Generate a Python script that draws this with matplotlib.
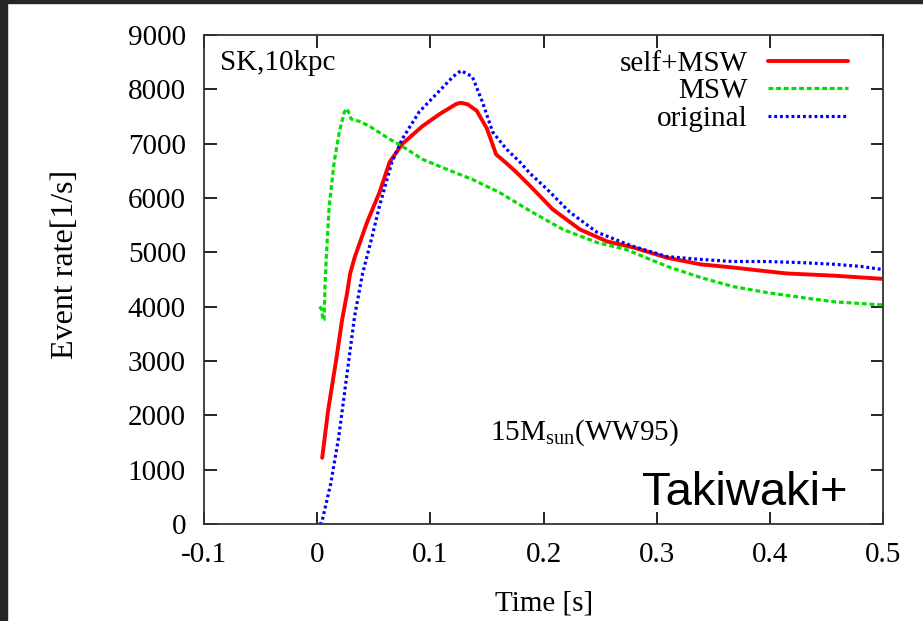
import matplotlib
matplotlib.use("Agg")
import matplotlib.pyplot as plt
from matplotlib.patches import Rectangle

plt.rcParams['font.family'] = ['Liberation Serif', 'DejaVu Serif']
plt.rcParams['mathtext.fontset'] = 'custom'
plt.rcParams['mathtext.rm'] = 'Liberation Serif'

# self+MSW (red, solid)
t_self = [0.0044, 0.0097, 0.0168, 0.022, 0.0265, 0.029, 0.033, 0.044, 0.055, 0.064, 0.075,
          0.093, 0.108, 0.123, 0.127, 0.133, 0.141, 0.150, 0.158, 0.167, 0.176, 0.188,
          0.208, 0.232, 0.256, 0.279, 0.309, 0.338, 0.367, 0.397, 0.415, 0.456, 0.5]
r_self = [1220, 2100, 3025, 3760, 4260, 4600, 4900, 5550, 6100, 6660, 6990,
          7320, 7540, 7730, 7750, 7720, 7600, 7270, 6800, 6640, 6470, 6220,
          5790, 5420, 5200, 5090, 4900, 4780, 4720, 4650, 4610, 4570, 4510]

# MSW (green, dashed)
t_msw = [0.002, 0.004, 0.005, 0.006, 0.007, 0.008, 0.0106, 0.015, 0.0195, 0.024,
         0.0265, 0.030, 0.037, 0.046, 0.064, 0.075, 0.093, 0.114, 0.137, 0.161,
         0.188, 0.217, 0.247, 0.273, 0.309, 0.338, 0.367, 0.397, 0.427, 0.456, 0.5]
r_msw = [4000, 3950, 3750, 3760, 4440, 4900, 5850, 6660, 7210, 7580,
         7640, 7450, 7410, 7320, 7080, 6950, 6710, 6530, 6340, 6100,
         5760, 5420, 5180, 5050, 4740, 4540, 4370, 4260, 4170, 4090, 4030]

# original (blue, dotted)
t_orig = [0.002, 0.004, 0.012, 0.019, 0.026, 0.033, 0.040, 0.048, 0.055, 0.066,
          0.075, 0.090, 0.108, 0.120, 0.127, 0.137, 0.146, 0.155, 0.167, 0.179,
          0.188, 0.203, 0.223, 0.247, 0.270, 0.279, 0.309, 0.338, 0.367, 0.397,
          0.427, 0.456, 0.48, 0.5]
r_orig = [0, 30, 750, 1600, 2710, 3820, 4600, 5250, 5850, 6660,
          7080, 7580, 7970, 8230, 8340, 8230, 7760, 7210, 6900, 6660,
          6450, 6160, 5740, 5370, 5180, 5110, 4920, 4870, 4830, 4830,
          4810, 4780, 4740, 4680]

x_ticks = [-0.1, 0, 0.1, 0.2, 0.3, 0.4, 0.5]
x_labels = ['-0.1', '0', '0.1', '0.2', '0.3', '0.4', '0.5']
y_ticks = list(range(0, 9001, 1000))

FS = 21

fig = plt.figure(figsize=(9.23, 6.21), dpi=100)
ax = fig.add_axes([0.221, 0.156, 0.736, 0.788])

# dark border strips of the screenshot
fig.patches.append(Rectangle((0, 0), 7 / 923, 1, transform=fig.transFigure,
                             color='#262626', zorder=0))
fig.patches.append(Rectangle((0, 1 - 3 / 621), 1, 3 / 621, transform=fig.transFigure,
                             color='#262626', zorder=0))

ax.plot(t_self, r_self, color='#ff0000', lw=2.8, label='self+MSW', solid_capstyle='round')
ax.plot(t_msw, r_msw, color='#00e000', lw=2.3, linestyle=(0, (1.5, 0.9)), label='MSW')
ax.plot(t_orig, r_orig, color='#0000ff', lw=2.3, linestyle=(0, (0.9, 0.9)), label='original')

ax.set_xlim(-0.1, 0.5)
ax.set_ylim(0, 9000)
ax.set_xticks(x_ticks)
ax.set_xticklabels(x_labels)
ax.set_yticks(y_ticks)
ax.tick_params(direction='in', length=9, width=1.2, top=True, right=True,
               labelsize=FS, pad=13)
for s in ax.spines.values():
    s.set_linewidth(1.3)
    s.set_color('#333333')

ax.set_xlabel('Time [s]', fontsize=FS, labelpad=16)
ax.set_ylabel('Event rate[1/s]', fontsize=23)
ax.yaxis.set_label_coords(-0.183, 0.53)

leg = ax.legend(loc='upper right', bbox_to_anchor=(0.948, 0.968), frameon=False,
                markerfirst=False, fontsize=FS, handlelength=2.75, handletextpad=0.7,
                labelspacing=0.04, borderaxespad=0, borderpad=0)

ax.text(0.024, 0.928, 'SK,10kpc', transform=ax.transAxes, fontsize=FS, va='baseline')
ax.text(0.421, 0.172, r'15M$_{\rm sun}$(WW95)', transform=ax.transAxes, fontsize=FS,
        va='baseline')
ax.text(0.948, 0.039, 'Takiwaki+', transform=ax.transAxes, fontsize=34, ha='right',
        va='baseline', family=['Liberation Sans', 'DejaVu Sans'])

fig.savefig('out.png', dpi=100)
